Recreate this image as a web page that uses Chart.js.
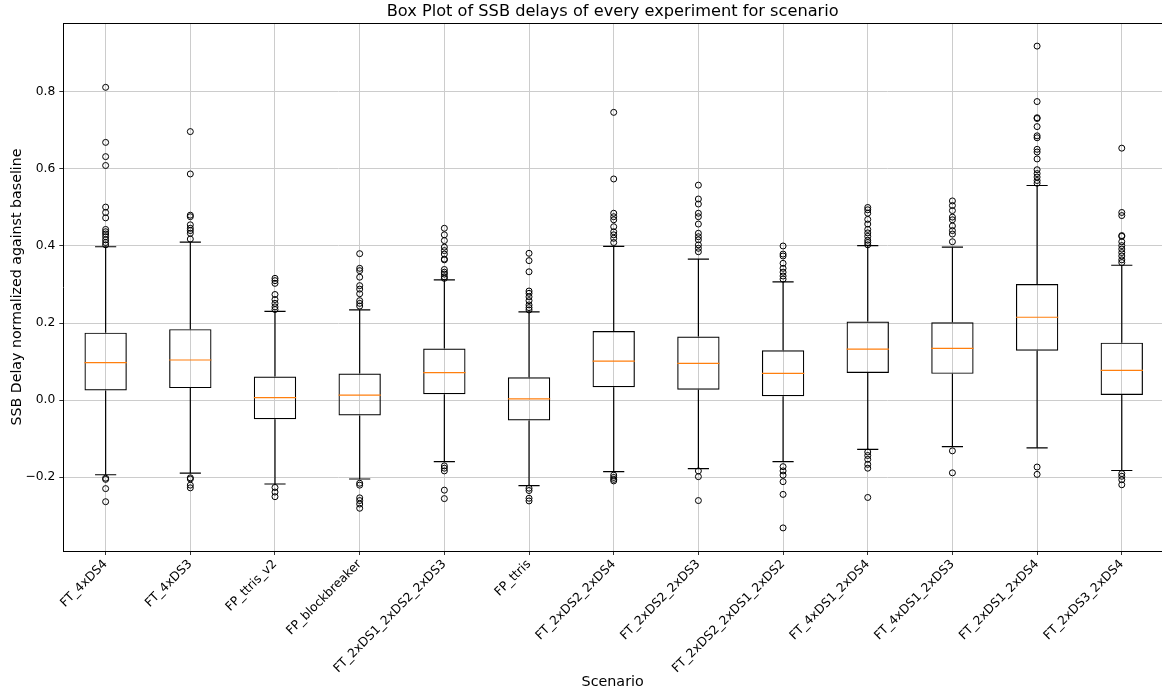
<!DOCTYPE html>
<html>
<head>
<meta charset="utf-8">
<script src="https://cdn.jsdelivr.net/npm/chart.js@4.4.1/dist/chart.umd.min.js"></script>
<style>
body{margin:0;background:#fff;}
#wrap{width:1162px;height:695px;}
</style>
</head>
<body>
<div id="wrap"><canvas id="boxChart" width="1162" height="695"></canvas></div>
<script>
// =========================
// DATA
// =========================

let scenarios = ["FT_4xDS4","FT_4xDS3","FP_ttris_v2","FP_blockbreaker","FT_2xDS1_2xDS2_2xDS3","FP_ttris",
"FT_2xDS2_2xDS4","FT_2xDS2_2xDS3","FT_2xDS2_2xDS1_2xDS2","FT_4xDS1_2xDS4","FT_4xDS1_2xDS3","FT_2xDS1_2xDS4","FT_2xDS3_2xDS4"];

let q1        = [0.025, 0.031,-0.050,-0.040, 0.015,-0.053, 0.033, 0.027, 0.010, 0.070, 0.068, 0.128, 0.013];
let median    = [0.097, 0.104, 0.006, 0.013, 0.071, 0.003, 0.101, 0.095, 0.069, 0.132, 0.134, 0.215, 0.077];
let q3        = [0.175, 0.184, 0.061, 0.069, 0.134, 0.059, 0.179, 0.165, 0.129, 0.204, 0.202, 0.301, 0.149];
let whiskerLo = [-0.194,-0.190,-0.218,-0.205,-0.160,-0.222,-0.186,-0.178,-0.160,-0.128,-0.121,-0.124,-0.183];
let whiskerHi = [0.398, 0.410, 0.230, 0.234, 0.312, 0.229, 0.399, 0.366, 0.307, 0.401, 0.397, 0.557, 0.350];

let outliers = [
[0.812,0.669,0.632,0.609,0.501,0.487,0.473,0.443,0.437,0.431,0.424,0.416,0.409,0.403,-0.203,-0.206,-0.230,-0.264],
[0.697,0.587,0.480,0.476,0.455,0.446,0.440,0.433,0.418,-0.202,-0.205,-0.221,-0.228],
[0.316,0.310,0.303,0.274,0.261,0.251,0.242,0.235,-0.227,-0.239,-0.251],
[0.380,0.342,0.336,0.319,0.297,0.288,0.276,0.258,0.251,0.244,-0.216,-0.221,-0.254,-0.261,-0.270,-0.281],
[0.446,0.429,0.414,0.397,0.388,0.379,0.366,0.364,0.339,0.332,0.327,0.320,0.316,-0.171,-0.177,-0.184,-0.234,-0.256],
[0.381,0.362,0.333,0.283,0.277,0.268,0.258,0.247,0.240,0.234,-0.229,-0.235,-0.255,-0.262],
[0.747,0.574,0.485,0.476,0.468,0.450,0.437,0.429,0.420,0.409,-0.195,-0.201,-0.206,-0.210],
[0.558,0.522,0.509,0.485,0.476,0.457,0.433,0.424,0.416,0.403,0.394,0.385,-0.184,-0.199,-0.261],
[0.400,0.379,0.374,0.355,0.342,0.332,0.322,0.314,-0.173,-0.184,-0.195,-0.212,-0.245,-0.332],
[0.500,0.494,0.485,0.469,0.457,0.443,0.434,0.425,0.415,0.409,0.403,-0.135,-0.144,-0.154,-0.167,-0.177,-0.253],
[0.517,0.505,0.492,0.475,0.468,0.452,0.440,0.431,0.411,-0.132,-0.189],
[0.919,0.775,0.733,0.731,0.710,0.686,0.681,0.651,0.644,0.626,0.598,0.588,0.579,0.570,0.563,-0.174,-0.193],
[0.654,0.487,0.479,0.427,0.425,0.411,0.401,0.392,0.383,0.374,0.364,0.357,-0.191,-0.198,-0.207,-0.220]
];

let yTicks = [-0.2, 0.0, 0.2, 0.4, 0.6, 0.8];


// =========================
// BUILD DATASETS
// =========================

let boxHalf = 0.25;
let capHalf = 0.125;

let boxData = [];
let whiskerData = [];
let capData = [];
let medianData = [];
let flierData = [];

scenarios.forEach(function(name, i){
let x = i + 1;
boxData.push({x:x, y:[q1[i], q3[i]]});

whiskerData.push({x:x, y:whiskerLo[i]}, {x:x, y:q1[i]}, {x:x, y:null});
whiskerData.push({x:x, y:q3[i]}, {x:x, y:whiskerHi[i]}, {x:x, y:null});

capData.push({x:x-capHalf, y:whiskerLo[i]}, {x:x+capHalf, y:whiskerLo[i]}, {x:x, y:null});
capData.push({x:x-capHalf, y:whiskerHi[i]}, {x:x+capHalf, y:whiskerHi[i]}, {x:x, y:null});

medianData.push({x:x-boxHalf, y:median[i]}, {x:x+boxHalf, y:median[i]}, {x:x, y:null});

outliers[i].forEach(function(v){
flierData.push({x:x, y:v});
});
});

function segLine(data, color, order){
return {
type:'line',
data:data,
borderColor:color,
borderWidth:1.2,
pointRadius:0,
fill:false,
tension:0,
spanGaps:false,
order:order
};
}


// =========================
// CHART
// =========================

Chart.defaults.font.family = "'DejaVu Sans', sans-serif";
Chart.defaults.color = '#000';

let fmt = function(v){
let s = Number(v).toFixed(1);
return s.replace('-', '\u2212');
};

new Chart(document.getElementById('boxChart'), {
type:'bar',
data:{
datasets:[
{
type:'bar',
data:boxData,
backgroundColor:'rgba(0,0,0,0)',
borderColor:'#000',
borderWidth:1.2,
borderSkipped:false,
barPercentage:0.5,
categoryPercentage:1.0,
order:3
},
segLine(whiskerData, '#000', 4),
segLine(capData, '#000', 4),
segLine(medianData, '#ff7f0e', 1),
{
type:'scatter',
data:flierData,
pointStyle:'circle',
pointRadius:3,
pointBorderWidth:1,
pointBorderColor:'#000',
pointBackgroundColor:'rgba(0,0,0,0)',
showLine:false,
order:2
}
]
},
options:{
responsive:false,
animation:false,
layout:{padding:0, autoPadding:false},
plugins:{legend:{display:false}, tooltip:{enabled:false}},
scales:{
x:{
type:'linear',
position:'bottom',
min:0.5,
max:13.475,
offset:false,
afterFit:function(scale){
scale.height = 144;
scale.paddingLeft = 0;
scale.paddingRight = 0;
},
afterBuildTicks:function(scale){
scale.ticks = scenarios.map(function(s, i){ return {value:i+1}; });
},
ticks:{
autoSkip:false,
maxRotation:45,
minRotation:45,
padding:2,
font:{size:12.3},
callback:function(v){ return scenarios[v-1]; }
},
grid:{color:'#cccccc', lineWidth:1, offset:false, tickLength:4, tickColor:'#333'},
border:{color:'#000', width:1},
title:{display:true, text:'Scenario', font:{size:14.3}, padding:{top:0, bottom:4}}
},
x2:{
type:'linear',
position:'top',
min:0.5,
max:13.475,
afterFit:function(scale){
scale.height = 23;
scale.paddingLeft = 0;
scale.paddingRight = 0;
},
ticks:{display:false},
grid:{display:true, drawOnChartArea:false, drawTicks:false},
border:{display:true, color:'#000', width:1},
title:{display:true, text:'Box Plot of SSB delays of every experiment for scenario', font:{size:16.2}, padding:{top:2, bottom:0}}
},
y:{
type:'linear',
min:-0.392,
max:0.979,
afterFit:function(scale){
scale.width = 63.3;
scale.paddingTop = 0;
scale.paddingBottom = 0;
},
afterBuildTicks:function(scale){
scale.ticks = yTicks.map(function(v){ return {value:v}; });
},
ticks:{font:{size:12.3}, padding:4, callback:function(v){ return fmt(v); }},
grid:{color:'#cccccc', lineWidth:1, tickLength:4, tickColor:'#333'},
border:{color:'#000', width:1},
title:{display:true, text:'SSB Delay normalized against baseline', font:{size:14.2}, padding:{top:8.5, bottom:0}}
}
}
}
});
</script>
</body>
</html>
